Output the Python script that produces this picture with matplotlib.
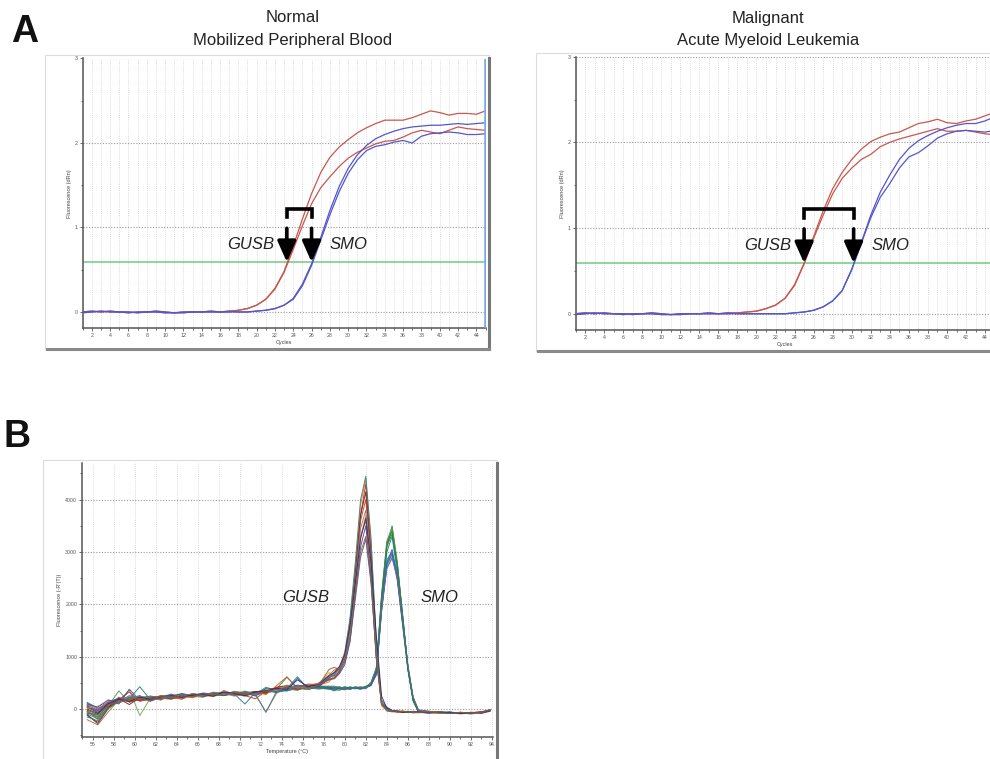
import numpy as np
import matplotlib
matplotlib.use("Agg")
import matplotlib.pyplot as plt
from matplotlib.patches import Rectangle
from matplotlib.lines import Line2D

plt.rcParams['font.family'] = ['Liberation Sans', 'DejaVu Sans']

# ---------------- data: panel A (amplification plots) ----------------
cycles = list(range(1, 46))
base17 = [-0.01, 0.0, 0.01, 0.0, 0.0, -0.01, 0.0, 0.0, 0.0, -0.01, -0.01, -0.01, 0.0, 0.0, 0.0, 0.0, 0.01]
base17b = [0.0, 0.01, 0.0, 0.01, 0.0, 0.0, -0.01, 0.0, 0.01, 0.0, -0.01, 0.0, 0.0, 0.0, 0.01, 0.0, 0.0]

normal_gusb_1 = base17 + [0.02, 0.04, 0.08, 0.15, 0.28, 0.48, 0.78, 1.10, 1.40, 1.65, 1.83, 1.95, 2.04,
                          2.12, 2.18, 2.23, 2.27, 2.27, 2.27, 2.30, 2.34, 2.38, 2.36, 2.33, 2.35, 2.35, 2.34, 2.38]
normal_gusb_2 = base17b + [0.02, 0.04, 0.08, 0.15, 0.27, 0.47, 0.74, 1.02, 1.28, 1.47, 1.60, 1.72, 1.82,
                           1.89, 1.94, 1.99, 2.02, 2.03, 2.07, 2.12, 2.15, 2.13, 2.11, 2.15, 2.19, 2.17, 2.16, 2.15]
normal_smo_1 = base17b + [0.0, 0.0, 0.01, 0.02, 0.04, 0.08, 0.16, 0.33, 0.57, 0.88, 1.20, 1.48, 1.70,
                          1.86, 1.97, 2.05, 2.10, 2.14, 2.17, 2.19, 2.20, 2.21, 2.21, 2.22, 2.23, 2.22, 2.23, 2.24]
normal_smo_2 = base17 + [0.0, 0.0, 0.01, 0.02, 0.04, 0.08, 0.15, 0.31, 0.55, 0.85, 1.15, 1.42, 1.64,
                         1.80, 1.91, 1.96, 1.98, 2.01, 2.03, 2.00, 2.08, 2.11, 2.12, 2.13, 2.12, 2.10, 2.10, 2.11]

aml_gusb_1 = base17 + [0.01, 0.02, 0.03, 0.06, 0.10, 0.18, 0.34, 0.59, 0.90, 1.20, 1.46, 1.65, 1.80,
                       1.92, 2.01, 2.06, 2.10, 2.12, 2.17, 2.22, 2.24, 2.27, 2.23, 2.22, 2.25, 2.27, 2.31, 2.35]
aml_gusb_2 = base17b + [0.01, 0.02, 0.03, 0.06, 0.10, 0.18, 0.33, 0.58, 0.88, 1.15, 1.40, 1.58, 1.70,
                        1.80, 1.86, 1.95, 2.00, 2.04, 2.07, 2.10, 2.13, 2.16, 2.13, 2.13, 2.14, 2.12, 2.10, 2.09]
aml_smo_1 = base17b + [0.0, 0.0, 0.0, 0.0, 0.0, 0.0, 0.01, 0.02, 0.04, 0.08, 0.15, 0.27, 0.52,
                       0.83, 1.15, 1.42, 1.62, 1.80, 1.93, 2.02, 2.08, 2.13, 2.17, 2.20, 2.22, 2.22, 2.25, 2.30]
aml_smo_2 = base17 + [0.0, 0.0, 0.0, 0.0, 0.0, 0.0, 0.01, 0.02, 0.04, 0.08, 0.15, 0.27, 0.51,
                      0.82, 1.12, 1.36, 1.52, 1.70, 1.83, 1.88, 1.96, 2.05, 2.10, 2.13, 2.14, 2.13, 2.12, 2.14]

threshold = 0.59
ct_normal = {'GUSB': 23.3, 'SMO': 26.0}
ct_aml = {'GUSB': 25.0, 'SMO': 30.2}

# ---------------- data: panel B (melt curves) ----------------
temps = [55.5, 56.5, 57.5, 58.5, 59.5, 60.5, 61.5, 62.5, 63.5, 64.5, 65.5, 66.5, 67.5, 68.5,
         69.5, 70.5, 71.5, 72.5, 73.5, 74.5, 75.5, 76.5, 77.5, 78.5,
         79, 79.5, 80, 80.5, 81, 81.5, 82, 82.5, 83, 83.5, 84, 84.5, 85, 85.5, 86, 86.5, 87,
         88, 89, 90, 91, 92, 93, 93.8]

gusb_melt = [
    [-50, -150, 80, 150, 200, 180, 160, 220, 240, 210, 250, 280, 260, 300, 250, 280, 300, 330, 380, 420, 400, 430, 460, 520,
     650, 800, 1100, 1700, 2700, 3900, 4400, 3200, 1300, 150, -20, -30, -40, -30, -50, -40, -50,
     -60, -50, -70, -80, -60, -50, -10],
    [60, -20, 120, 180, 330, 150, 200, 190, 260, 230, 280, 240, 310, 270, 320, 260, 200, 350, 400, 380, 450, 420, 470, 560,
     600, 720, 950, 1500, 2500, 3700, 4300, 3000, 1150, 100, -10, -40, -30, -50, -40, -60, -50,
     -50, -70, -60, -70, -80, -60, -20],
    [-120, -250, 30, 200, 90, 220, 180, 250, 200, 270, 230, 300, 280, 330, 290, 300, 340, 310, 420, 450, 380, 460, 440, 600,
     700, 780, 1000, 1600, 2600, 3700, 4150, 2900, 1100, 80, -30, -50, -40, -60, -50, -50, -60,
     -70, -60, -80, -60, -70, -50, -30],
    [20, 60, 150, 120, 250, 200, 240, 170, 280, 250, 220, 260, 330, 280, 310, 350, 290, 380, 360, 400, 430, 390, 480, 700,
     620, 760, 900, 1400, 2300, 3300, 3700, 2700, 1000, 60, -20, -30, -50, -40, -60, -50, -40,
     -60, -80, -70, -60, -90, -70, -30],
    [-200, -300, -50, 180, 160, 240, 200, 260, 230, 190, 300, 270, 240, 360, 280, 310, 330, 280, 450, 620, 400, 450, 500, 650,
     750, 800, 1000, 1500, 2400, 3300, 3600, 2600, 1050, 120, 0, -40, -60, -50, -40, -60, -70,
     -50, -60, -60, -90, -70, -60, -20],
    [100, 40, 180, 100, 380, 170, 220, 200, 250, 300, 260, 310, 290, 260, 340, 290, 320, 360, 330, 410, 460, 440, 430, 580,
     580, 680, 850, 1300, 2200, 3100, 3500, 2500, 950, 100, 40, -20, -40, -50, -60, -50, -60,
     -70, -50, -80, -70, -60, -80, -40],
    [-80, -100, 100, 160, 210, 260, 150, 230, 290, 220, 270, 250, 300, 320, 270, 330, 250, 400, 390, 360, 590, 400, 450, 620,
     640, 700, 900, 1300, 2100, 2900, 3250, 2400, 1000, 180, 30, -30, -50, -40, -50, -70, -60,
     -60, -70, -50, -80, -70, -60, -10],
    [30, -60, 60, 230, 140, 190, 230, 210, 190, 260, 240, 290, 270, 310, 300, 270, 310, 340, 410, 430, 420, 480, 470, 560,
     590, 740, 1000, 1600, 2500, 3600, 4000, 2900, 1200, 130, -10, -30, -40, -50, -50, -40, -50,
     -50, -60, -70, -70, -80, -50, -20],
    [90, -40, 140, 170, 230, 250, 210, 180, 270, 240, 300, 260, 280, 290, 340, 310, 280, -50, 300, 460, 410, 380, 490, 620,
     680, 760, 980, 1550, 2450, 3450, 3800, 2750, 1100, 90, -20, -40, -30, -50, -60, -50, -60,
     -60, -70, -60, -80, -70, -60, -20],
    [-150, -220, 20, 140, 260, 200, 250, 230, 210, 280, 250, 270, 320, 300, 280, 340, 300, 360, 330, 380, 440, 420, 460, 590,
     660, 780, 1050, 1750, 2800, 4000, 4450, 3250, 1250, 110, -30, -40, -50, -40, -60, -50, -50,
     -60, -50, -70, -70, -80, -60, -20],
    [0, -80, 110, 190, 150, 230, 190, 240, 260, 230, 270, 280, 250, 330, 300, 260, 330, 350, 400, 380, 560, 430, 470, 640,
     700, 820, 1050, 1600, 2400, 3250, 3650, 2800, 1400, 250, 20, -30, -40, -60, -50, -60, -50,
     -70, -60, -60, -80, -70, -60, -30],
    [-40, -160, 90, 120, 200, 210, 170, 250, 230, 260, 230, 300, 290, 270, 320, 280, 300, 340, 370, 420, 380, 410, 450, 760,
     800, 760, 940, 1400, 2200, 3000, 3300, 2450, 980, 100, 0, -30, -50, -40, -50, -60, -60,
     -50, -70, -80, -60, -70, -60, -20],
]

smo_melt = [
    [80, -80, 120, 200, 170, 210, 190, 240, 220, 260, 250, 230, 290, 300, 280, 250, 310, 300, 370, 380, 420, 400, 410, 430,
     420, 400, 430, 410, 400, 420, 410, 480, 750, 2100, 3100, 3500, 2800, 1800, 800, 180, -30,
     -50, -60, -70, -80, -70, -60, -20],
    [-30, -200, 40, 150, 370, -120, 210, 190, 250, 230, 270, 300, 250, 280, 310, 290, 270, 330, 350, 410, 390, 420, 380, 410,
     380, 420, 390, 430, 410, 400, 440, 500, 800, 2200, 3200, 3450, 2700, 1700, 750, 150, -40,
     -60, -50, -80, -70, -60, -70, -30],
    [130, 20, 90, 180, 200, 430, 180, 220, 200, 240, 280, 260, 300, 270, 290, 330, 280, -60, 340, 400, 620, 380, 420, 400,
     400, 380, 420, 390, 430, 410, 420, 460, 700, 2000, 3000, 3300, 2600, 1750, 820, 200, -20,
     -40, -60, -60, -80, -70, -50, -10],
    [-100, -280, 10, 170, 150, 200, 230, 180, 260, 250, 230, 280, 310, 260, 300, 270, 300, 350, 320, 360, 400, 430, 400, 390,
     350, 410, 400, 380, 420, 390, 430, 470, 650, 1900, 2800, 3050, 2500, 1650, 780, 220, -30,
     -60, -70, -60, -70, -90, -60, -20],
    [50, -50, 140, 210, 190, 170, 220, 250, 230, 200, 260, 290, 270, 310, 260, 300, 330, 320, 380, 350, 410, 380, 430, 420,
     420, 390, 370, 410, 400, 380, 410, 450, 680, 1850, 2750, 2950, 2450, 1600, 760, 190, -40,
     -50, -70, -70, -60, -80, -70, -30],
    [-60, -140, 70, 130, 240, 180, 200, 240, 210, 280, 240, 260, 290, 280, 330, 300, 290, 420, 360, 390, 360, 440, 410, 380,
     370, 360, 410, 400, 390, 420, 400, 520, 780, 1950, 2700, 2900, 2550, 1700, 850, 240, -10,
     -40, -50, -70, -80, -60, -70, -20],
    [110, 0, 160, 190, 220, 240, 170, 210, 270, 240, 290, 250, 280, 320, 290, 310, 260, 360, 400, 370, 430, 410, 440, 440,
     440, 420, 400, 380, 410, 400, 390, 490, 720, 2050, 2850, 3000, 2600, 1750, 800, 160, -50,
     -70, -60, -60, -70, -80, -60, -30],
    [-20, -100, 100, 160, 180, 220, 250, 200, 240, 270, 220, 300, 260, 290, 310, 280, 320, 380, 350, 420, 390, 400, 450, 410,
     390, 400, 380, 420, 400, 410, 430, 470, 760, 2150, 3150, 3400, 2750, 1800, 790, 170, -30,
     -50, -50, -70, -60, -70, -60, -20],
    [-50, -120, 60, 350, 130, 200, 220, 240, 230, 270, 260, 280, 300, 270, 330, 310, 300, 380, 360, 350, 400, 390, 430, 420,
     410, 430, 400, 420, 390, 410, 420, 500, 770, 2150, 3200, 3480, 2780, 1780, 820, 190, -30,
     -50, -60, -60, -80, -70, -60, -20],
    [40, -30, 130, 180, 210, 170, 240, 220, 250, 290, 240, 270, 280, 310, 290, 100, 320, 340, 380, 400, 420, 410, 420, 400,
     380, 410, 400, 420, 400, 390, 420, 480, 700, 1900, 2780, 2980, 2500, 1650, 800, 200, -30,
     -60, -60, -70, -70, -80, -60, -30],
    [70, -20, 110, 200, 180, 240, 200, 230, 260, 250, 280, 250, 300, 290, 270, 320, 330, 360, 340, 390, 370, 430, 400, 430,
     400, 420, 380, 400, 410, 430, 400, 510, 760, 1900, 2680, 2880, 2500, 1720, 830, 230, -20,
     -40, -60, -70, -60, -80, -70, -20],
    [-90, -180, 40, 160, 190, 210, 180, 260, 240, 220, 290, 270, 260, 300, 310, 290, 270, 330, 390, 610, 400, 380, 430, 410,
     420, 400, 410, 390, 420, 400, 430, 470, 740, 2100, 3100, 3350, 2700, 1780, 790, 180, -40,
     -60, -50, -70, -80, -70, -60, -20],
]

gusb_colors = ['#e8731c', '#c8281e', '#7a1a12', '#f0a040', '#d25a1e', '#5a3c9c', '#2f5fb0', '#b0402a',
               '#7a7a7a', '#2a8a8a', '#26307a', '#9a5a2a']
smo_colors = ['#2e8c3c', '#66a85a', '#1c7a7a', '#2c4ca0', '#6a50a8', '#3c8c6c', '#3a70c0', '#2a6a2a',
              '#4a9a4a', '#1f6f9f', '#7b5fb0', '#2c7c54']

# ---------------- layout helpers (pixel boxes) ----------------
W, H = 990, 759
fig = plt.figure(figsize=(W / 100, H / 100), dpi=100)


def box(x0, y0, x1, y1):
    return [x0 / W, 1 - y1 / H, (x1 - x0) / W, (y1 - y0) / H]


def frame(x0, y0, x1, y1, shadow_right=True, shadow_bottom=True):
    fig.add_artist(Rectangle((x0 / W, 1 - y1 / H), (x1 - x0) / W, (y1 - y0) / H,
                             transform=fig.transFigure, fill=False, ec='#dcdcdc', lw=0.8, zorder=0))
    if shadow_right:
        fig.add_artist(Line2D([x1 / W, x1 / W], [1 - (y0 + 3) / H, 1 - y1 / H],
                              transform=fig.transFigure, color='#777777', lw=2.2, zorder=0))
    if shadow_bottom:
        fig.add_artist(Line2D([(x0 + 2) / W, x1 / W], [1 - y1 / H, 1 - y1 / H],
                              transform=fig.transFigure, color='#8a8a8a', lw=2.2, zorder=0))


def style_common(ax):
    for s in ['top', 'right']:
        ax.spines[s].set_visible(False)
    for s in ['left', 'bottom']:
        ax.spines[s].set_color('#555555')
        ax.spines[s].set_linewidth(1.1)
    ax.tick_params(which='both', labelsize=3.8, colors='#555555', length=2, width=0.6, pad=1.5)
    ax.tick_params(which='minor', length=1.5)


def amp_panel(ax, curves_red, curves_blue, ct, xlim):
    ax.set_xlim(*xlim)
    ax.set_ylim(-0.19, 3.0)
    ax.set_xticks(range(2, 45, 2))
    ax.set_xticks(range(1, 46), minor=True)
    ax.set_yticks([0, 1, 2, 3])
    ax.set_yticks([0.5, 1.5, 2.5], minor=True)
    ax.grid(which='both', axis='x', ls=(0, (1, 1.5)), color='#d2d2d2', lw=0.6)
    ax.grid(which='major', axis='y', ls=(0, (1, 1.5)), color='#9a9a9a', lw=0.8)
    style_common(ax)
    ax.set_xlabel('Cycles', fontsize=4, color='#444444', labelpad=1.5)
    ax.set_ylabel('Fluorescence (dRn)', fontsize=4, color='#444444', labelpad=2)
    ax.axhline(threshold, color='#78d08c', lw=1.2, zorder=2)
    for c in curves_red:
        ax.plot(cycles, c, color='#c9574c', lw=0.9, zorder=3)
    for c in curves_blue:
        ax.plot(cycles, c, color='#5555cc', lw=0.9, zorder=3)

    xg, xs = ct['GUSB'], ct['SMO']
    arrow = dict(arrowstyle='-|>,head_length=0.9,head_width=0.4', lw=2.6,
                 color='black', mutation_scale=14, shrinkA=0, shrinkB=0)
    for xc in (xg, xs):
        ax.annotate('', xy=(xc, threshold), xytext=(xc, 0.99), arrowprops=arrow, zorder=5)
    ax.plot([xg, xg, xs, xs], [1.12, 1.22, 1.22, 1.12], color='black', lw=2.6,
            solid_joinstyle='miter', zorder=5)
    ax.annotate('GUSB', xy=(xg, 0.8), xytext=(-9, 0), textcoords='offset points',
                ha='right', va='center', fontsize=12, style='italic', color='#222222')
    ax.annotate('SMO', xy=(xs, 0.8), xytext=(13, 0), textcoords='offset points',
                ha='left', va='center', fontsize=12, style='italic', color='#222222')


# screenshot frames
frame(45, 55, 489, 349)
frame(536, 53, 1000, 351, shadow_right=False)
frame(43, 460, 497, 770, shadow_bottom=False)

axL = fig.add_axes(box(82.7, 58.5, 485.5, 328))
amp_panel(axL, [normal_gusb_1, normal_gusb_2], [normal_smo_1, normal_smo_2], ct_normal, (1.1, 44.95))
axL.axvline(44.9, color='#7aa8e2', lw=1.8, zorder=4)

axR = fig.add_axes(box(575.5, 56.7, 994.6, 330))
amp_panel(axR, [aml_gusb_1, aml_gusb_2], [aml_smo_1, aml_smo_2], ct_aml, (1.0, 45.0))

# panel B
axB = fig.add_axes(box(82, 463, 493, 737))
axB.set_xlim(55.0, 94.1)
axB.set_ylim(-530, 4700)
axB.set_xticks(range(56, 95, 2))
axB.set_xticks(range(55, 95), minor=True)
axB.set_yticks([0, 1000, 2000, 3000, 4000])
axB.set_yticks([-500, 500, 1500, 2500, 3500, 4500], minor=True)
axB.grid(which='major', axis='x', ls=(0, (1, 1.5)), color='#cfcfcf', lw=0.6)
axB.grid(which='major', axis='y', ls=(0, (1, 1.5)), color='#9a9a9a', lw=0.8)
style_common(axB)
axB.set_xlabel('Temperature (\u00b0C)', fontsize=4, color='#444444', labelpad=1.5)
axB.set_ylabel("Fluorescence (-R'(T))", fontsize=4, color='#444444', labelpad=2)
for i, c in enumerate(smo_melt):
    axB.plot(temps, c, color=smo_colors[i], lw=0.7, alpha=0.9)
for i, c in enumerate(gusb_melt):
    axB.plot(temps, c, color=gusb_colors[i], lw=0.7, alpha=0.9)
axB.text(76.3, 2130, 'GUSB', ha='center', va='center', fontsize=12, style='italic', color='#222222')
axB.text(89.05, 2130, 'SMO', ha='center', va='center', fontsize=12, style='italic', color='#222222')

# titles and panel letters
fig.text(293 / W, 1 - 22.5 / H, 'Normal', ha='center', va='baseline', fontsize=12, color='#222222')
fig.text(293 / W, 1 - 45.5 / H, 'Mobilized Peripheral Blood', ha='center', va='baseline', fontsize=12, color='#222222')
fig.text(768 / W, 1 - 22.5 / H, 'Malignant', ha='center', va='baseline', fontsize=12, color='#222222')
fig.text(768 / W, 1 - 45.5 / H, 'Acute Myeloid Leukemia', ha='center', va='baseline', fontsize=12, color='#222222')
fig.text(11 / W, 1 - 42 / H, 'A', ha='left', va='baseline', fontsize=27, fontweight='bold', color='#111111')
fig.text(4 / W, 1 - 447 / H, 'B', ha='left', va='baseline', fontsize=27, fontweight='bold', color='#111111')

fig.savefig('out.png', dpi=100)
